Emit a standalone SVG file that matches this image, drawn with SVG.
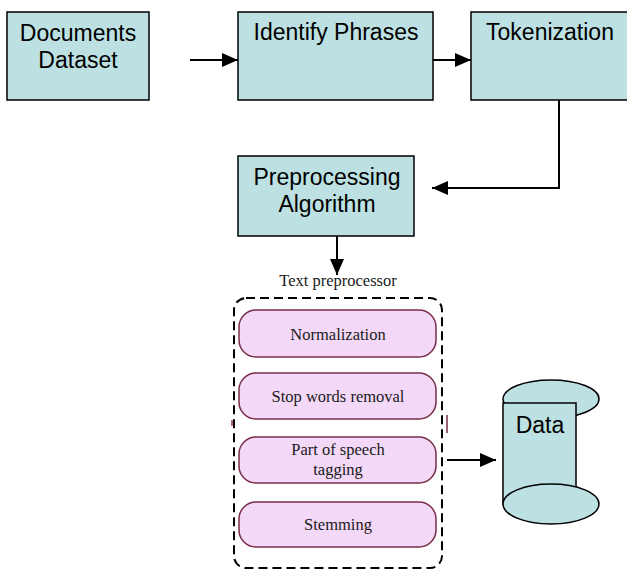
<svg xmlns="http://www.w3.org/2000/svg" width="627" height="570" viewBox="0 0 627 570">
<defs>
<style>
.box{fill:#bde0e2;stroke:#000;stroke-width:1.5}
.lbl{font-family:"Liberation Sans",Arial,sans-serif;font-size:23px;fill:#000;text-anchor:middle}
.pill{fill:#f4d8f8;stroke:#7a2d4c;stroke-width:1.5}
.ser{font-family:"Liberation Serif","Times New Roman",serif;font-size:16.5px;fill:#1a1a1a;text-anchor:middle}
.ln{fill:none;stroke:#000;stroke-width:2}
</style>
<marker id="ah" viewBox="0 0 16 14" refX="16" refY="7" markerWidth="8.5" markerHeight="7" markerUnits="strokeWidth" orient="auto">
<path d="M0,0 L16,7 L0,14 Z" fill="#000"/>
</marker>
</defs>
<rect width="627" height="570" fill="#fff"/>
<g id="connectors">
<line class="ln" x1="190" y1="60" x2="238" y2="60" marker-end="url(#ah)"/>
<line class="ln" x1="432" y1="60" x2="471" y2="60" marker-end="url(#ah)"/>
<polyline class="ln" points="559,100 559,188 432,188" marker-end="url(#ah)"/>
<line class="ln" x1="337" y1="236" x2="337" y2="275" marker-end="url(#ah)"/>
<line class="ln" x1="447" y1="460" x2="496" y2="460" marker-end="url(#ah)"/>
</g>
<g id="documents">
<rect class="box" x="7" y="12" width="142" height="88"/>
<text class="lbl" x="78" y="41">Documents</text>
<text class="lbl" x="78" y="68">Dataset</text>
</g>
<g id="identify">
<rect class="box" x="238" y="12" width="195" height="88"/>
<text class="lbl" x="336" y="40">Identify Phrases</text>
</g>
<g id="tokenization">
<rect class="box" x="471" y="12" width="159" height="88"/>
<text class="lbl" x="550" y="40">Tokenization</text>
</g>
<g id="preprocessing">
<rect class="box" x="238" y="156" width="176" height="80"/>
<text class="lbl" x="327" y="185">Preprocessing</text>
<text class="lbl" x="327" y="212">Algorithm</text>
</g>
<g id="textpreprocessor">
<text class="ser" x="338" y="286">Text preprocessor</text>
<rect x="234" y="298" width="208" height="270" rx="12" fill="none" stroke="#000" stroke-width="2" stroke-dasharray="9,5"/>
<line x1="232" y1="420" x2="232" y2="426" stroke="#a0304a" stroke-width="1.5"/>
<line x1="447" y1="415" x2="447" y2="433" stroke="#7a2d4c" stroke-width="1.5"/>
</g>
<g id="normalization">
<rect class="pill" x="239" y="310" width="197" height="47" rx="17"/>
<text class="ser" x="338" y="340">Normalization</text>
</g>
<g id="stopwords">
<rect class="pill" x="239" y="373" width="197" height="46" rx="17"/>
<text class="ser" x="338" y="402">Stop words removal</text>
</g>
<g id="pos">
<rect class="pill" x="239" y="437" width="197" height="46" rx="17"/>
<text class="ser" x="338" y="455">Part of speech</text>
<text class="ser" x="338" y="475">tagging</text>
</g>
<g id="stemming">
<rect class="pill" x="239" y="502" width="197" height="45" rx="17"/>
<text class="ser" x="338" y="530">Stemming</text>
</g>
<g id="data">
<ellipse cx="551" cy="399" rx="48" ry="19" fill="#bde0e2" stroke="#000" stroke-width="1.5"/>
<rect x="503" y="403" width="73" height="101" fill="#bde0e2" stroke="#000" stroke-width="1.5"/>
<ellipse cx="551" cy="504" rx="48" ry="20" fill="#bde0e2" stroke="#000" stroke-width="1.5"/>
<text class="lbl" x="540" y="433">Data</text>
</g>
</svg>
